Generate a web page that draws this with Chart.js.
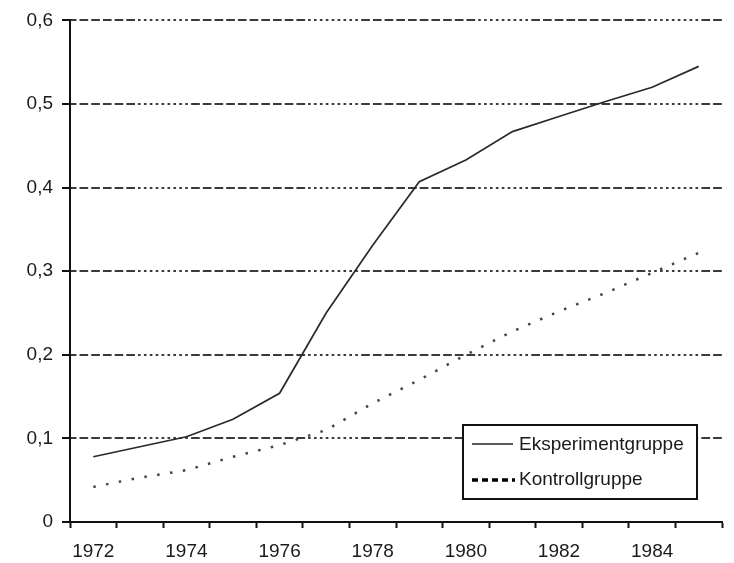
<!DOCTYPE html>
<html>
<head>
<meta charset="utf-8">
<script src="https://cdn.jsdelivr.net/npm/chart.js@4"></script>
<style>
  html, body { margin: 0; padding: 0; background: #fff; }
  #wrap { width: 734px; height: 563px; }
</style>
</head>
<body>
<div id="wrap"><canvas id="chart"></canvas></div>
<script>
const years = ["1972", "1973", "1974", "1975", "1976", "1977", "1978",
               "1979", "1980", "1981", "1982", "1983", "1984", "1985"];
const eksperiment = [0.078, 0.090, 0.102, 0.123, 0.154, 0.250, 0.331,
                     0.407, 0.433, 0.467, 0.485, 0.503, 0.520, 0.545];
const kontroll = [0.042, 0.053, 0.062, 0.078, 0.092, 0.110, 0.142,
                  0.170, 0.200, 0.228, 0.252, 0.274, 0.298, 0.322];
const seriesNames = ["Eksperimentgruppe", "Kontrollgruppe"];

const FONT = "'Liberation Sans', Arial, sans-serif";
const TEXT = "#1a1a1a";

// grid pattern: run of dashes, then run of dots
const gridDash = [];
for (let i = 0; i < 10; i++) gridDash.push(8.7, 3);
for (let i = 0; i < 9; i++) gridDash.push(2.6, 3.3);

const boxLegend = {
  id: "boxLegend",
  afterDraw(chart) {
    const { ctx, chartArea } = chart;
    const x = chartArea.right - 259;
    const y = chartArea.bottom - 97;
    ctx.save();
    ctx.fillStyle = "#fff";
    ctx.fillRect(x, y, 234, 74);
    ctx.strokeStyle = "#111";
    ctx.lineWidth = 2;
    ctx.strokeRect(x, y, 234, 74);

    ctx.strokeStyle = "#222";
    ctx.lineWidth = 1.6;
    ctx.beginPath();
    ctx.moveTo(x + 9, y + 19);
    ctx.lineTo(x + 50, y + 19);
    ctx.stroke();

    ctx.strokeStyle = "#000";
    ctx.lineWidth = 3.5;
    ctx.setLineDash([6, 4]);
    ctx.beginPath();
    ctx.moveTo(x + 9, y + 55);
    ctx.lineTo(x + 52, y + 55);
    ctx.stroke();
    ctx.setLineDash([]);

    ctx.fillStyle = TEXT;
    ctx.font = "19px " + FONT;
    ctx.textBaseline = "middle";
    ctx.fillText(seriesNames[0], x + 56, y + 20);
    ctx.fillText(seriesNames[1], x + 56, y + 55);
    ctx.restore();
  }
};

new Chart(document.getElementById("chart"), {
  type: "line",
  data: {
    labels: years,
    datasets: [
      {
        label: seriesNames[0],
        data: eksperiment,
        borderColor: "#2a2a2a",
        borderWidth: 1.7,
        pointRadius: 0,
        tension: 0,
        fill: false,
      },
      {
        label: seriesNames[1],
        data: kontroll,
        borderColor: "#444",
        borderWidth: 2.5,
        borderDash: [2.5, 10.5],
        pointRadius: 0,
        tension: 0,
        fill: false,
      },
    ],
  },
  options: {
    responsive: true,
    maintainAspectRatio: false,
    animation: false,
    layout: { padding: { left: 0, right: 12, top: 20, bottom: 0 } },
    plugins: {
      legend: { display: false },
      tooltip: { enabled: false },
    },
    scales: {
      x: {
        type: "category",
        offset: true,
        afterFit: (scale) => { scale.height = 41; },
        grid: {
          offset: true,
          drawOnChartArea: false,
          drawTicks: true,
          tickLength: 6,
          tickColor: "#111",
          tickWidth: 2,
        },
        border: { display: true, color: "#111", width: 2 },
        ticks: {
          autoSkip: false,
          maxRotation: 0,
          padding: 12,
          color: TEXT,
          font: { family: FONT, size: 19 },
          callback: function (value, index) {
            return index % 2 === 0 ? this.getLabelForValue(value) : "";
          },
        },
      },
      y: {
        min: 0,
        max: 0.6,
        afterFit: (scale) => { scale.width = 70; },
        grid: {
          color: "#3a3a3a",
          lineWidth: 2,
          drawTicks: true,
          tickLength: 8,
          tickColor: "#111",
          tickWidth: 2,
        },
        border: { display: true, color: "#111", width: 2, dash: gridDash, dashOffset: 50 },
        ticks: {
          stepSize: 0.1,
          padding: 9,
          color: TEXT,
          font: { family: FONT, size: 19 },
          callback: (v) => (v === 0 ? "0" : v.toFixed(1).replace(".", ",")),
        },
      },
    },
  },
  plugins: [boxLegend],
});
</script>
</body>
</html>
